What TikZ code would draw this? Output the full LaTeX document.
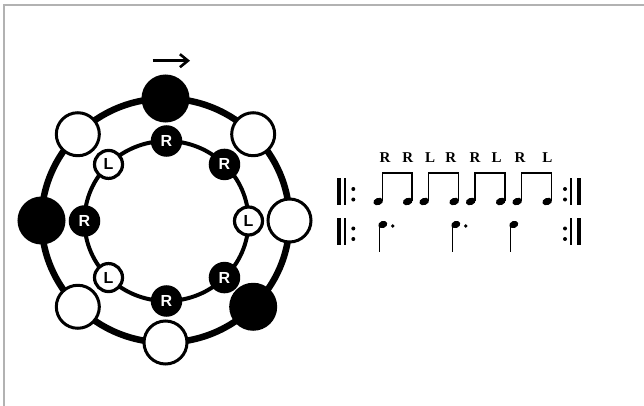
\documentclass[tikz,border=0pt]{standalone}
\usepackage{fontspec}
\setmainfont{Liberation Serif}
\newfontfamily\circfont{Liberation Sans}
\usetikzlibrary{arrows.meta,calc}
\begin{document}
\begin{tikzpicture}[x=1pt,y=-1pt,
  outerB/.style={circle,fill=black,draw=black,line width=2pt,minimum size=46pt,inner sep=0pt},
  outerW/.style={circle,fill=white,draw=black,line width=3pt,minimum size=43pt,inner sep=0pt},
  innerB/.style={circle,fill=black,draw=black,line width=2pt,minimum size=29.5pt,inner sep=0pt,text=white,font=\circfont\bfseries\fontsize{16}{16}\selectfont},
  innerW/.style={circle,fill=white,draw=black,line width=3.2pt,minimum size=28pt,inner sep=0pt,text=black,font=\circfont\bfseries\fontsize{16}{16}\selectfont},
  lab/.style={font=\bfseries\fontsize{15}{15}\selectfont,inner sep=0pt,anchor=base},
  frame/.style={draw=black!30,line width=1.5pt},
  stemline/.style={line width=1.5pt},
  ringout/.style={line width=6.5pt},
  ringin/.style={line width=4pt}]
\useasboundingbox (0,0) rectangle (644,406);
\fill[white] (0,0) rectangle (644,406);
\draw[frame] (4,406) -- (4,5) -- (644,5);

% arrow
\coordinate (a1) at (152.7,60.7);
\coordinate (a2) at (190,60.7);
\draw[line width=2.6pt,-{Straight Barb[length=8pt,width=13pt]}] (a1) -- (a2);

% ring centres
\coordinate (co) at (165.5,220.5);
\coordinate (ci) at (166.5,221);

% positions on the two rings
\foreach \n/\a in {1/90,2/45,3/0,4/-45,5/-90,6/-135,7/180,8/135}{
  \coordinate (p\n) at ($(co)+({124*cos(\a)},{-122*sin(\a)})$);
  \coordinate (q\n) at ($(ci)+({82*cos(\a)},{-80*sin(\a)})$);
}

\draw[ringout] (co) ellipse [x radius=124pt, y radius=122pt];
\draw[ringin] (ci) ellipse [x radius=82pt, y radius=80pt];

\node[outerB] (o1) at (p1) {};
\node[outerW] (o2) at (p2) {};
\node[outerW] (o3) at (p3) {};
\node[outerB] (o4) at (p4) {};
\node[outerW] (o5) at (p5) {};
\node[outerW] (o6) at (p6) {};
\node[outerB] (o7) at (p7) {};
\node[outerW] (o8) at (p8) {};

\node[innerB] (i1) at (q1) {R};
\node[innerB] (i2) at (q2) {R};
\node[innerW] (i3) at (q3) {L};
\node[innerB] (i4) at (q4) {R};
\node[innerB] (i5) at (q5) {R};
\node[innerW] (i6) at (q6) {L};
\node[innerB] (i7) at (q7) {R};
\node[innerW] (i8) at (q8) {L};

% sticking labels
\node[lab] (l1) at (385,163) {R};
\node[lab] (l2) at (407.7,163) {R};
\node[lab] (l3) at (430,163) {L};
\node[lab] (l4) at (450.7,163) {R};
\node[lab] (l5) at (475,163) {R};
\node[lab] (l6) at (496.7,163) {L};
\node[lab] (l7) at (520,163) {R};
\node[lab] (l8) at (547.3,163) {L};

% repeat signs
\foreach \ya/\yb/\da/\db in {178/205/189/199.5, 218/245/228.5/239} {
  \fill (336.5,\ya) rectangle (340.5,\yb);
  \fill (344,\ya) rectangle (346,\yb);
  \fill (353.3,\da) circle (2pt);
  \fill (353.3,\db) circle (2pt);
  \fill (565,\da) circle (2pt);
  \fill (565,\db) circle (2pt);
  \fill (570,\ya) rectangle (572,\yb);
  \fill (577,\ya) rectangle (581,\yb);
}

% beamed eighth notes
\foreach \sa/\sb in {382.5/412, 428.5/458.5, 475/505, 521.5/551.5} {
  \foreach \s in {\sa,\sb} {
    \fill (\s-4.3,201.5) ellipse [x radius=5pt, y radius=3.6pt, rotate=20];
    \draw[stemline] (\s,201) -- (\s,172.5);
  }
  \fill (\sa-0.75,171.5) rectangle (\sb+0.75,174.4);
}

% dotted quarters, stems down
\foreach \s/\d in {379/1, 452/1, 510/0} {
  \fill (\s+3.8,224.5) ellipse [x radius=4.6pt, y radius=3.5pt, rotate=20];
  \draw[stemline] (\s+0.3,224.5) -- (\s+0.3,252);
  \ifnum\d=1 \fill (\s+13.8,226) circle (1.9pt); \fi
}
\end{tikzpicture}
\end{document}
